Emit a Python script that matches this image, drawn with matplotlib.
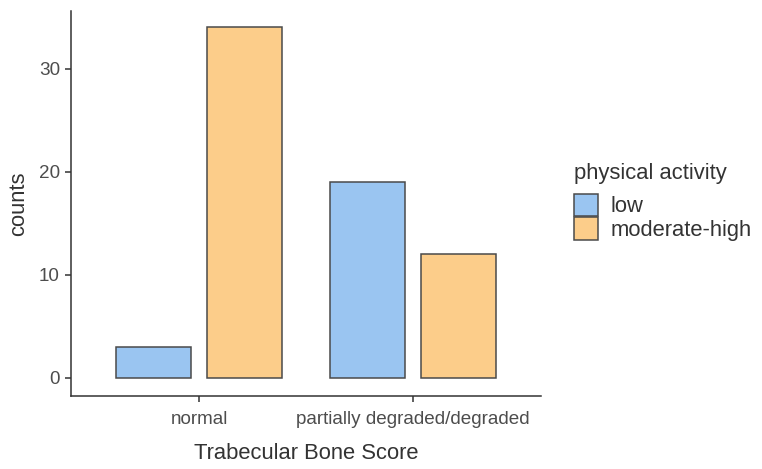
import numpy as np
import matplotlib.pyplot as plt
from matplotlib.patches import Patch

plt.rcParams["font.family"] = ["Liberation Sans", "DejaVu Sans"]

categories = ["normal", "partially degraded/degraded"]
groups = ["low", "moderate-high"]
counts_low = [3, 19]
counts_modhigh = [34, 12]

colors = ["#9AC5F1", "#FCCD8A"]
edge = "#4a4a4a"

fig = plt.figure(figsize=(7.62, 4.69), dpi=100)
ax = fig.add_axes([71 / 762, 1 - 395.6 / 469, 470 / 762, 384.6 / 469])

x = np.arange(1, len(categories) + 1)
w = 0.35
ax.bar(x - 0.2125, counts_low, width=w, color=colors[0], edgecolor=edge, linewidth=1.1)
ax.bar(x + 0.2125, counts_modhigh, width=w, color=colors[1], edgecolor=edge, linewidth=1.1)

ax.set_xlim(0.4, 2.6)
ax.set_ylim(-1.74, 35.6)
ax.set_xticks(x)
ax.set_xticklabels(categories)
ax.set_yticks([0, 10, 20, 30])

for side in ("top", "right"):
    ax.spines[side].set_visible(False)
for side in ("left", "bottom"):
    ax.spines[side].set_color("#333333")
    ax.spines[side].set_linewidth(1.1)

ax.tick_params(direction="out", length=4, width=1.1, color="#333333",
               labelsize=13.6, labelcolor="#4d4d4d", pad=4)
ax.tick_params(axis="x", pad=7)

ax.set_xlabel("Trabecular Bone Score", fontsize=15.8, color="#333333", labelpad=11)
ax.set_ylabel("counts", fontsize=15.8, color="#333333", labelpad=7)

handles = [Patch(facecolor=c, edgecolor=edge, linewidth=1.1) for c in colors]
leg = fig.legend(handles, groups, title="physical activity", loc="upper left",
                 bbox_to_anchor=(574 / 762, 1 - 163 / 469), frameon=False,
                 fontsize=15.8, title_fontsize=15.8, borderpad=0, borderaxespad=0,
                 handlelength=1.1, handleheight=1.2, labelspacing=0.0,
                 handletextpad=0.55)
leg._legend_box.align = "left"
leg._legend_box.sep = 7
for t in leg.get_texts():
    t.set_color("#333333")
leg.get_title().set_color("#333333")

fig.savefig("out.png", dpi=100, facecolor="white")
